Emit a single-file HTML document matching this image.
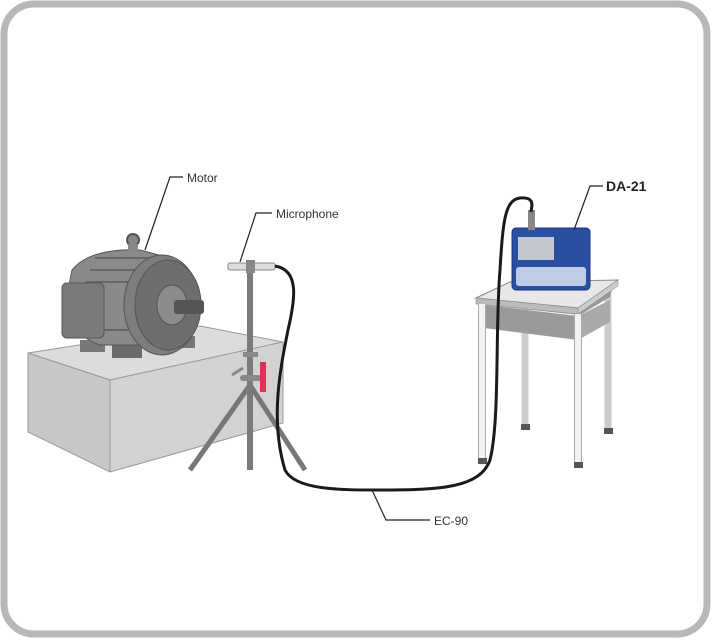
<!DOCTYPE html>
<html><head><meta charset="utf-8"><style>
html,body{margin:0;padding:0;background:#fff}
svg{display:block}
text{font-family:"Liberation Sans",sans-serif}
</style></head><body>
<svg width="711" height="638" viewBox="0 0 711 638" xmlns="http://www.w3.org/2000/svg">
<rect x="4" y="4" width="703" height="630" rx="30" fill="#fff" stroke="#b8b8b8" stroke-width="7"/>
<!-- block -->
<polygon points="28,353 200,326 283,342 110,380" fill="#dcdcdc" stroke="#999" stroke-width="1"/>
<polygon points="28,353 110,380 110,472 28,432" fill="#c8c8c8" stroke="#999" stroke-width="1"/>
<polygon points="110,380 283,342 283,423 110,472" fill="#d2d2d2" stroke="#999" stroke-width="1"/>
<!-- motor -->
<rect x="80" y="340" width="25" height="12" fill="#777"/>
<rect x="112" y="344" width="30" height="14" fill="#6a6a6a"/>
<rect x="170" y="336" width="25" height="12" fill="#777"/>
<path d="M72,270 Q90,248 140,250 L170,258 L170,345 L100,345 Q70,335 66,300 Z" fill="#8a8a8a" stroke="#555"/>
<path d="M95,258 L160,258 M90,270 L160,270 M86,282 L160,282 M85,330 L160,330" stroke="#666" stroke-width="2"/>
<rect x="62" y="283" width="42" height="55" rx="5" fill="#7a7a7a" stroke="#555"/>
<circle cx="133" cy="240" r="6" fill="#888" stroke="#555" stroke-width="2"/>
<rect x="128" y="244" width="10" height="8" fill="#888"/>
<ellipse cx="162" cy="305" rx="38" ry="50" fill="#7d7d7d" stroke="#555"/>
<ellipse cx="168" cy="305" rx="33" ry="45" fill="#6e6e6e" stroke="#555"/>
<ellipse cx="172" cy="305" rx="15" ry="20" fill="#8c8c8c" stroke="#555"/>
<rect x="174" y="300" width="30" height="14" rx="3" fill="#555"/>
<!-- tripod -->
<line x1="250" y1="385" x2="190" y2="470" stroke="#777" stroke-width="5"/>
<line x1="250" y1="385" x2="305" y2="470" stroke="#777" stroke-width="5"/>
<line x1="250" y1="266" x2="250" y2="470" stroke="#7a7a7a" stroke-width="6"/>
<rect x="243" y="352" width="15" height="5" fill="#888"/>
<rect x="240" y="375" width="22" height="6" rx="3" fill="#888"/>
<rect x="260" y="362" width="6" height="30" fill="#e0305a"/>
<line x1="232" y1="375" x2="243" y2="368" stroke="#888" stroke-width="3"/>
<rect x="228" y="263" width="47" height="7" rx="2" fill="#ddd" stroke="#888"/>
<rect x="246" y="260" width="9" height="13" fill="#888"/>
<!-- table -->
<line x1="525" y1="300" x2="525" y2="430" stroke="#ccc" stroke-width="7"/>
<line x1="608" y1="295" x2="608" y2="432" stroke="#ccc" stroke-width="7"/>
<polygon points="484,305 580,315 610,297 612,290 580,312 484,303" fill="#999"/>
<polygon points="484,305 578,316 578,340 484,328" fill="#9a9a9a"/>
<polygon points="578,316 610,300 610,322 578,340" fill="#aaa"/>
<polygon points="476,298 510,282 618,280 578,308" fill="#e8e8e8" stroke="#888"/>
<polygon points="476,298 578,308 578,314 476,304" fill="#bbb" stroke="#888" stroke-width="0.5"/>
<polygon points="578,308 618,280 618,286 578,314" fill="#ccc" stroke="#888" stroke-width="0.5"/>
<line x1="482" y1="304" x2="482" y2="462" stroke="#aaa" stroke-width="8"/>
<line x1="482" y1="304" x2="482" y2="462" stroke="#f2f2f2" stroke-width="6"/>
<line x1="578" y1="314" x2="578" y2="465" stroke="#aaa" stroke-width="8"/>
<line x1="578" y1="314" x2="578" y2="465" stroke="#f2f2f2" stroke-width="6"/>
<rect x="478" y="458" width="9" height="6" fill="#555"/>
<rect x="574" y="462" width="9" height="6" fill="#555"/>
<rect x="521" y="424" width="9" height="6" fill="#555"/>
<rect x="604" y="428" width="9" height="6" fill="#555"/>
<!-- device -->
<rect x="512" y="228" width="78" height="62" rx="4" fill="#2a4fa0" stroke="#1a3580"/>
<rect x="518" y="237" width="36" height="23" fill="#c4c8d0"/>
<rect x="516" y="267" width="70" height="19" rx="3" fill="#c0cbe6"/>
<rect x="528" y="210" width="7" height="20" fill="#888"/>
<!-- cable -->
<path d="M275,266 C300,270 295,300 288,330 C280,370 270,420 285,470 C295,490 340,490 380,490 C440,490 480,488 490,460 C500,420 495,330 500,270 C503,220 505,200 520,198 C535,197 532,205 531,212" fill="none" stroke="#1a1a1a" stroke-width="3"/>
<!-- labels -->
<polyline points="183,177 170,177 145,250" fill="none" stroke="#222" stroke-width="1.2"/>
<text x="187" y="182" font-size="12" fill="#333">Motor</text>
<polyline points="272,213 256,213 240,262" fill="none" stroke="#222" stroke-width="1.2"/>
<text x="276" y="218" font-size="12" fill="#333">Microphone</text>
<polyline points="603,186 590,186 574,230" fill="none" stroke="#222" stroke-width="1.2"/>
<text x="606" y="191" font-size="14" font-weight="bold" fill="#222">DA-21</text>
<polyline points="430,520 386,520 372,490" fill="none" stroke="#222" stroke-width="1.2"/>
<text x="434" y="525" font-size="12" fill="#333">EC-90</text>
</svg>
</body></html>
